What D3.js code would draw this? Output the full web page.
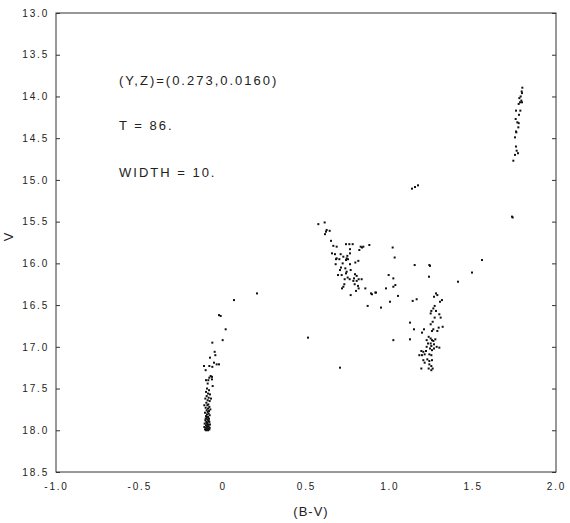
<!DOCTYPE html>
<html><head><meta charset="utf-8">
<script src="https://cdn.jsdelivr.net/npm/d3@7"></script>
<style>
body{margin:0;background:#fff;}
text{font-family:"Liberation Sans",Arial,sans-serif;fill:#222;}
</style></head>
<body><svg id="c" width="570" height="523"></svg>
<script>
// Tick values and labels
const xTicks = [-1.0, -0.5, 0, 0.5, 1.0, 1.5, 2.0];
const xTickLabels = ["-1.0", "-0.5", "0", "0.5", "1.0", "1.5", "2.0"];
const yTicks = [13.0, 13.5, 14.0, 14.5, 15.0, 15.5, 16.0, 16.5, 17.0, 17.5, 18.0, 18.5];
const yTickLabels = ["13.0","13.5","14.0","14.5","15.0","15.5","16.0","16.5","17.0","17.5","18.0","18.5"];
const annotations = ["(Y,Z)=(0.273,0.0160)", "T = 86.", "WIDTH = 10."];
const xLabel = "(B-V)";
const yLabel = "V";

// Stars: [B-V, V]
const mainSequence = [
[0.068,16.44],[-0.022,16.62],[-0.012,16.63],[0.018,16.79],[0.0,16.92],[-0.062,16.95],[-0.048,17.06],[-0.044,17.10],
[-0.076,17.13],[-0.052,17.19],[-0.112,17.23],[-0.08,17.23],[-0.062,17.24],[-0.036,17.21],[-0.022,17.21],[-0.102,17.28],
[-0.072,17.35],[-0.064,17.36],[-0.08,17.37],[-0.1,17.40],[-0.086,17.40],[-0.064,17.39],[-0.09,17.44],[-0.06,17.47],
[-0.094,17.50],[-0.082,17.52],[-0.100,17.54],[-0.088,17.56],[-0.076,17.57],[-0.096,17.59],[-0.084,17.61],[-0.104,17.62],
[-0.090,17.64],[-0.078,17.65],[-0.098,17.67],[-0.086,17.69],[-0.092,17.70],[-0.080,17.72],[-0.102,17.73],[-0.088,17.74],
[-0.096,17.76],[-0.082,17.77],[-0.090,17.78],[-0.106,17.79],[-0.084,17.80],[-0.094,17.81],[-0.078,17.82],[-0.100,17.83],
[-0.088,17.84],[-0.096,17.85],[-0.082,17.86],[-0.092,17.87],[-0.104,17.88],[-0.086,17.89],[-0.098,17.90],[-0.080,17.90],
[-0.092,17.91],[-0.108,17.92],[-0.088,17.93],[-0.076,17.93],[-0.100,17.94],[-0.094,17.95],[-0.084,17.95],[-0.110,17.96],
[-0.090,17.96],[-0.078,17.97],[-0.102,17.97],[-0.096,17.98],[-0.086,17.98],[-0.106,17.99],[-0.092,17.99],[-0.080,17.99],
[-0.100,18.00],[-0.088,18.00],[-0.096,17.92],[-0.084,17.88],[-0.102,17.86],[-0.074,17.75],[-0.110,17.70],[-0.070,17.62]
];
const isolated = [
[0.206,16.36],[0.512,16.89],[0.704,17.25],[1.136,15.105],[1.154,15.085],[1.172,15.065]
];
const subgiantBranch = [
[0.574,15.53],[0.612,15.51],[0.624,15.60],[0.62,15.62],[0.642,15.61],[0.614,15.65],[0.65,15.73],[0.664,15.79],
[0.684,15.80],[0.74,15.77],[0.76,15.77],[0.78,15.77],[0.836,15.81],[0.828,15.80],[0.844,15.80],[0.88,15.78],
[0.82,15.84],[0.764,15.83],[0.656,15.88],[0.674,15.89],[0.708,15.89],[0.724,15.92],[0.748,15.91],[0.684,15.94],
[0.68,15.95],[0.70,15.95],[0.744,15.94],[0.752,15.95],[0.74,15.96],[0.764,15.88],[0.814,15.97],[0.796,15.99],
[0.72,16.00],[0.678,16.01],[0.764,16.01],[0.71,16.05],[0.704,16.08],[0.736,16.06],[0.744,16.10],[0.768,16.08],
[0.714,16.14],[0.74,16.12],[0.794,16.13],[0.804,16.15],[0.692,16.14],[0.732,16.19],[0.75,16.17],[0.762,16.19],
[0.788,16.18],[0.784,16.21],[0.804,16.21],[0.816,16.19],[0.834,16.19],[0.73,16.25],[0.724,16.28],[0.716,16.30],
[0.792,16.25],[0.812,16.27],[0.816,16.30],[0.768,16.38],[0.80,16.33],[0.856,16.30],[0.89,16.36],[0.916,16.35],
[0.92,16.35],[0.896,16.37],[0.87,16.51],[0.95,16.53]
];
const scattered = [
[1.02,15.81],[1.032,15.93],[1.152,16.02],[1.24,16.02],[1.244,16.03],[1.238,16.16],[0.996,16.14],[1.024,16.18],
[1.036,16.26],[1.024,16.28],[0.98,16.30],[1.052,16.39],[1.004,16.46],[1.412,16.22],[1.496,16.11],[1.556,15.96],
[1.124,16.71],[1.148,16.79],[1.124,16.91],[1.024,16.92]
];
const redGiantBranch = [
[1.14,16.45],[1.164,16.43],[1.280,16.36],[1.288,16.38],[1.268,16.40],[1.316,16.44],[1.304,16.46],
[1.272,16.51],[1.264,16.54],[1.252,16.57],[1.248,16.60],[1.280,16.57],[1.300,16.61],[1.272,16.65],[1.308,16.65],
[1.260,16.70],[1.248,16.73],[1.320,16.76],[1.208,16.79],[1.196,16.83],[1.264,16.79],[1.256,16.81],[1.288,16.81],
[1.296,16.77],[1.236,16.88],[1.224,16.92],[1.248,16.90],[1.256,16.92],[1.264,16.93],[1.276,16.91],
[1.232,16.96],[1.248,16.96],[1.268,16.97],[1.252,16.99],[1.224,17.00],[1.284,17.00],[1.300,17.01],[1.192,17.05],
[1.204,17.06],[1.220,17.05],[1.244,17.02],[1.256,17.04],[1.268,17.02],[1.180,17.10],[1.196,17.10],[1.212,17.09],
[1.240,17.09],[1.252,17.10],[1.204,17.16],[1.228,17.15],[1.240,17.17],[1.256,17.16],[1.212,17.19],[1.240,17.21],
[1.252,17.23],[1.236,17.26],[1.252,17.28],[1.192,17.26],[1.260,17.26]
];
const upperGiantBranch = [
[1.798,13.895],[1.794,13.94],[1.796,13.96],[1.788,14.00],[1.78,14.02],[1.792,14.05],[1.784,14.07],[1.796,14.07],
[1.776,14.09],[1.76,14.17],[1.786,14.17],[1.778,14.22],[1.758,14.27],[1.768,14.31],[1.776,14.32],[1.774,14.37],
[1.76,14.42],[1.762,14.43],[1.754,14.49],[1.76,14.60],[1.764,14.65],[1.772,14.68],[1.754,14.70],[1.744,14.77],
[1.736,15.44],[1.74,15.45]
];

const svg = d3.select("#c");
const x = d3.scaleLinear().domain([-1, 2]).range([56, 556]);
const y = d3.scaleLinear().domain([13, 18.5]).range([13, 472]);

// frame
svg.append("rect").attr("x", x(-1)).attr("y", y(13))
  .attr("width", x(2) - x(-1)).attr("height", y(18.5) - y(13))
  .attr("fill", "none").attr("stroke", "#333").attr("stroke-width", 1);

const fmtY = d => yTickLabels[yTicks.indexOf(d)];
const fmtX = d => xTickLabels[xTicks.indexOf(d)];

const gl = svg.append("g").attr("transform", `translate(${x(-1)},0)`)
  .call(d3.axisLeft(y).tickValues(yTicks).tickFormat(fmtY).tickSizeInner(-4).tickSizeOuter(0).tickPadding(7));
const gr = svg.append("g").attr("transform", `translate(${x(2)},0)`)
  .call(d3.axisRight(y).tickValues(yTicks).tickFormat("").tickSizeInner(-4).tickSizeOuter(0));
const gb = svg.append("g").attr("transform", `translate(0,${y(18.5)})`)
  .call(d3.axisBottom(x).tickValues(xTicks).tickFormat(fmtX).tickSizeInner(0).tickSizeOuter(0).tickPadding(11));
[gl, gr, gb].forEach(g => {
  g.select(".domain").remove();
  g.selectAll("line").attr("stroke", "#333");
  g.selectAll("text").attr("font-size", 10).attr("letter-spacing", "1.8px")
    .attr("font-family", "'Liberation Sans', Arial, sans-serif").attr("fill", "#222");
});

// labels
svg.append("text").attr("x", 311).attr("y", 516).attr("text-anchor", "middle")
  .attr("font-size", 13).attr("letter-spacing", "1px").text(xLabel);
svg.append("text").attr("transform", "translate(13,237) rotate(-90)").attr("text-anchor", "middle")
  .attr("font-size", 13).text(yLabel);

// annotations
const annY = [85, 130, 177];
annotations.forEach((t, i) => {
  svg.append("text").attr("x", 119).attr("y", annY[i]).attr("font-size", 13)
    .attr("letter-spacing", "2px").text(t);
});

// stars
const all = [].concat(mainSequence, isolated, subgiantBranch, scattered, redGiantBranch, upperGiantBranch);
svg.append("g").selectAll("rect").data(all).join("rect")
  .attr("x", d => x(d[0]) - 1).attr("y", d => y(d[1]) - 1)
  .attr("width", 2).attr("height", 2).attr("fill", "#111");
</script>
</body></html>
